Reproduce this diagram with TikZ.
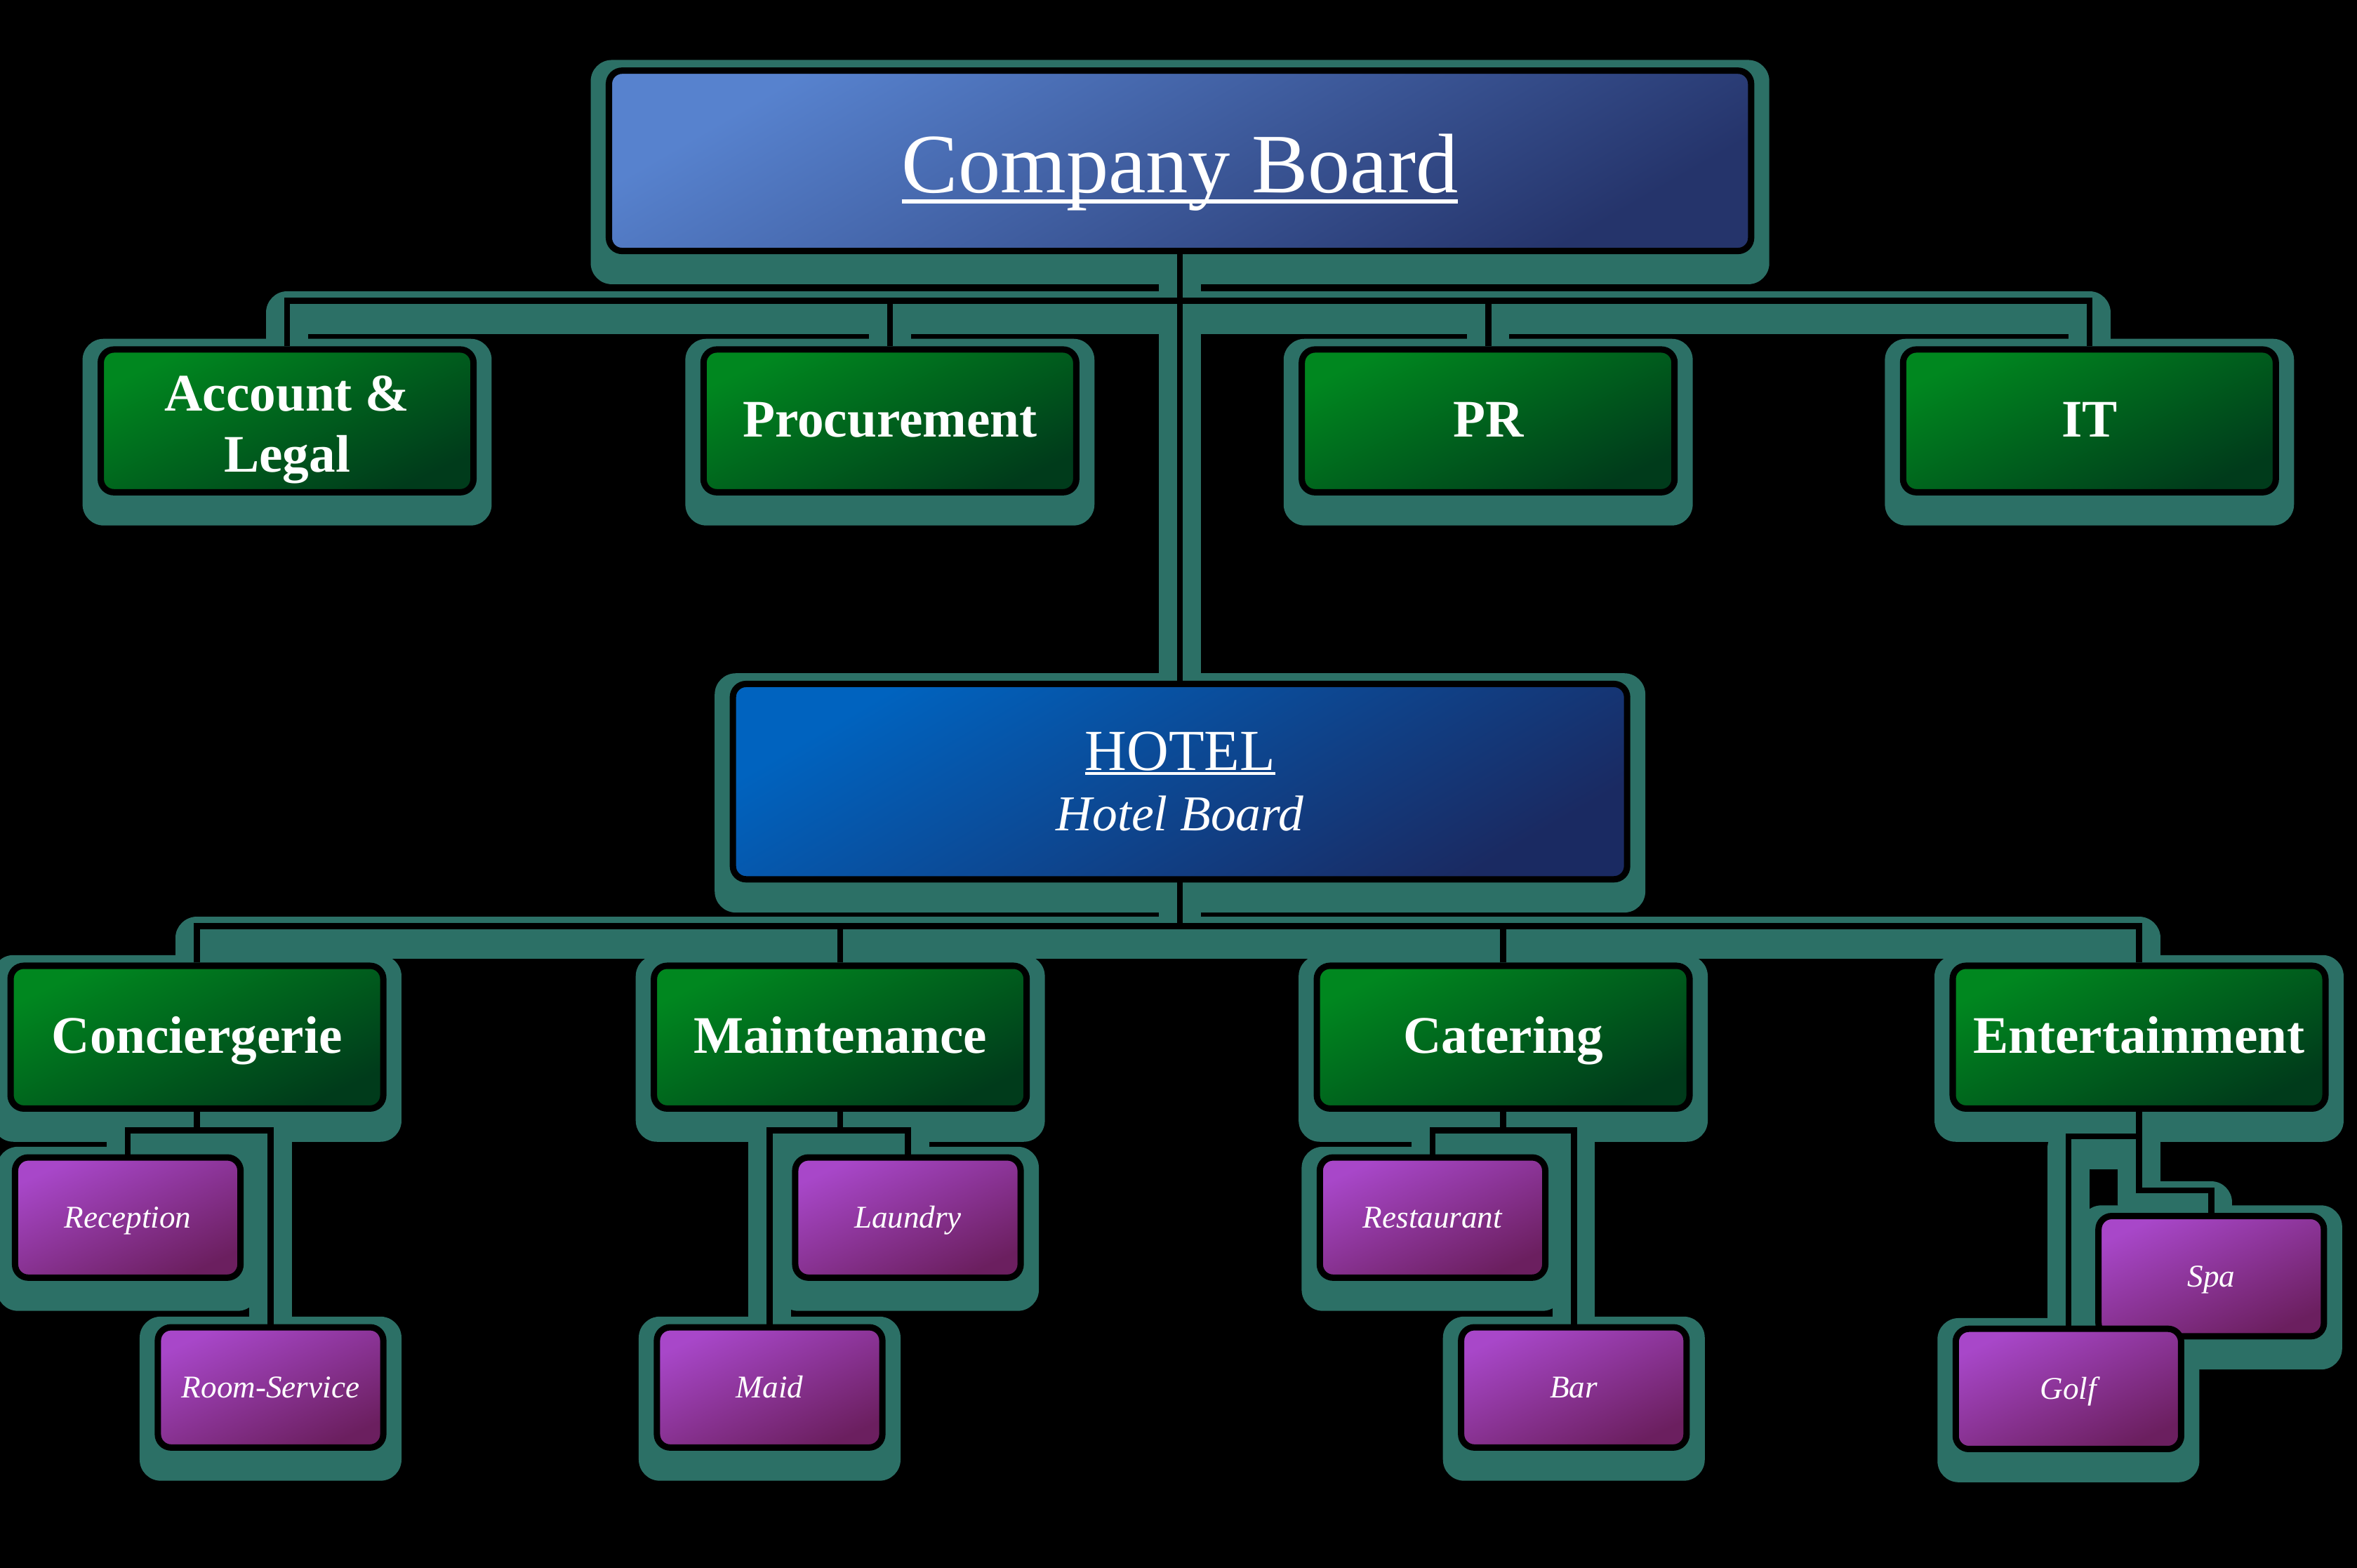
\documentclass[tikz,border=0pt]{standalone}
\usepackage{fontspec}
\setmainfont{Liberation Serif}
\usetikzlibrary{backgrounds}
\definecolor{halo}{HTML}{2C7066}
\definecolor{grnA}{HTML}{00871F}
\definecolor{grnB}{HTML}{003B1B}
\definecolor{vioA}{HTML}{A847C9}
\definecolor{vioB}{HTML}{6B1F5F}
\definecolor{brdA}{HTML}{5782CE}
\definecolor{brdB}{HTML}{25346B}
\definecolor{htlA}{HTML}{0063BF}
\definecolor{htlB}{HTML}{1A2A62}
\newcommand{\uln}[2]{\setbox0\hbox{#2}\rlap{\rule[-#1]{\wd0}{0.05em}}\box0}
\newcommand{\wire}[1]{%
  \begin{pgfonlayer}{background}\draw[wireglow] #1;\end{pgfonlayer}
  \draw[wirecore] #1;}
\begin{document}
\begin{tikzpicture}[x=0.02cm,y=-0.02cm,
    box/.style={draw=black,line width=2.4pt,rounded corners=5pt,text=white,align=center,inner sep=2pt},
    boardbox/.style={box,top color=brdA,bottom color=brdB,shading angle=30,minimum width=15.2cm,minimum height=2.4cm,font=\fontsize{32}{36}\selectfont,text height=30pt,text depth=6pt},
    hotelbox/.style={box,top color=htlA,bottom color=htlB,shading angle=30,minimum width=11.9cm,minimum height=2.6cm,font=\fontsize{22}{23}\selectfont},
    grnbox/.style={box,top color=grnA,bottom color=grnB,shading angle=25,minimum width=4.96cm,minimum height=1.9cm,font=\fontsize{20}{23}\selectfont\bfseries},
    deptbox/.style={grnbox,text height=17pt,text depth=5pt},
    subbox/.style={box,top color=vioA,bottom color=vioB,shading angle=25,minimum width=3cm,minimum height=1.6cm,font=\fontsize{12}{14}\selectfont\itshape,text height=11pt,text depth=3pt},
    halobox/.style={fill=halo,rounded corners=8pt},
    wireglow/.style={draw=halo,line width=16pt,line join=round,transform canvas={yshift=-0.16cm}},
    wirecore/.style={draw=black,line width=2.3pt}]
  \useasboundingbox (0,0) rectangle (1568,1043);
  \begin{pgfonlayer}{background}
    \fill[black] (0,0) rectangle (1568,1043);
  \end{pgfonlayer}

  \node[boardbox] (board) at (785,107) {\uln{0.13em}{Company Board}};
  \node[grnbox] (acct) at (191,280) {\rule{0pt}{20pt}Account \&\\Legal};
  \node[deptbox] (proc) at (592,280) {Procurement};
  \node[deptbox] (pr) at (990,280) {PR};
  \node[deptbox] (it) at (1390,280) {IT};
  \node[hotelbox] (hotel) at (785,520) {\uln{0.08em}{HOTEL}\\{\fontsize{19}{22}\selectfont\itshape Hotel Board}};
  \node[deptbox] (conc) at (131,690) {Conciergerie};
  \node[deptbox] (maint) at (559,690) {Maintenance};
  \node[deptbox] (cater) at (1000,690) {Catering};
  \node[deptbox] (ent) at (1423,690) {Entertainment};
  \node[subbox] (recep) at (85,810) {Reception};
  \node[subbox] (room) at (180,923) {Room-Service};
  \node[subbox] (laund) at (604,810) {Laundry};
  \node[subbox] (maid) at (512,923) {Maid};
  \node[subbox] (resto) at (953,810) {Restaurant};
  \node[subbox] (bar) at (1047,923) {Bar};
  \node[subbox] (spa) at (1471,849) {Spa};
  \node[subbox] (golf) at (1376,924) {Golf};

  \coordinate (bus1) at (785,200);
  \coordinate (bus2) at (785,616);
  \coordinate (cj) at (131,752);
  \coordinate (mj) at (559,752);
  \coordinate (kj) at (1000,752);
  \coordinate (ej1) at (1423,756);
  \coordinate (ej2) at (1423,792);

  % company level
  \wire{(board.south) -- (hotel.north)}
  \wire{(acct.north) |- (bus1) -| (it.north)}
  \wire{(proc.north) |- (bus1)}
  \wire{(pr.north) |- (bus1)}
  % hotel level
  \wire{(hotel.south) -- (bus2)}
  \wire{(conc.north) |- (bus2) -| (ent.north)}
  \wire{(maint.north) |- (bus2)}
  \wire{(cater.north) |- (bus2)}
  % services
  \wire{(conc.south) -- (cj)}
  \wire{(recep.north) |- (cj) -| (room.north)}
  \wire{(maint.south) -- (mj)}
  \wire{(maid.north) |- (mj) -| (laund.north)}
  \wire{(cater.south) -- (kj)}
  \wire{(resto.north) |- (kj) -| (bar.north)}
  \wire{(ent.south) -- (ej2) -| (spa.north)}
  \wire{(golf.north) |- (ej1)}

  \begin{pgfonlayer}{background}
    \foreach \n in {board,acct,proc,pr,it,hotel,conc,maint,cater,ent,recep,room,laund,maid,resto,bar,spa,golf}
      \fill[halobox] ([shift={(-10,20)}]\n.south west) rectangle ([shift={(10,-5)}]\n.north east);
  \end{pgfonlayer}
\end{tikzpicture}
\end{document}
